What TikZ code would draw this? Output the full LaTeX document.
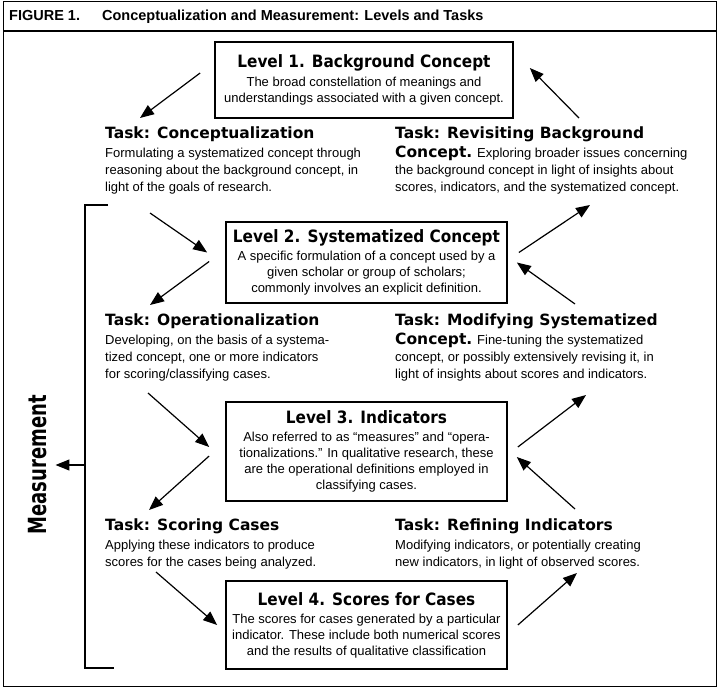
\documentclass[tikz,border=0pt]{standalone}
\usepackage{fontspec}
\setmainfont{Liberation Sans}
\newfontfamily\heavyfont{DejaVu Sans}
\newfontfamily\condfont{DejaVu Sans Condensed}
\usetikzlibrary{arrows.meta}

\newcommand\bodyfont{\fontsize{13}{16}\selectfont}
\newcommand\taskfont{\fontsize{13}{17}\selectfont}
\newcommand\ttlfont{\heavyfont\bfseries\fontsize{15.5}{18}\selectfont}
\newcommand\lvlfont{\condfont\bfseries\fontsize{17}{19}\selectfont}

\tikzset{
  level/.style={draw, line width=1.7pt, align=center, minimum width=281pt, inner sep=0pt, font=\bodyfont},
  task/.style={anchor=north west, align=left, inner sep=0pt, font=\taskfont},
  arr/.style={line width=1.2pt, -{Triangle[length=14pt,width=11pt]}},
}

\begin{document}
\begin{tikzpicture}[x=1pt,y=-1pt]
\useasboundingbox (0,0) rectangle (720,690);

% Frame and heading
\draw[line width=1pt] (3.5,2) rectangle (716.5,686.5);
\node[anchor=west, inner sep=0pt, font=\fontsize{14.5}{16}\selectfont\bfseries] (hdr) at (9,17) {FIGURE 1.\hspace{22pt}Conceptualization and Measurement: Levels and Tasks};
\draw[line width=1.6pt] (3,31) -- (717,31);

% Levels
\node[level, minimum width=298pt, minimum height=76pt] (lone) at (364,80) {{\lvlfont Level 1. Background Concept}\\[3pt]The broad constellation of meanings and\\understandings associated with a given concept.};
\node[level, minimum height=81pt] (ltwo) at (366.5,262.5) {{\lvlfont Level 2. Systematized Concept}\\[2pt]A specific formulation of a concept used by a\\given scholar or group of scholars;\\commonly involves an explicit definition.};
\node[level, minimum height=99pt] (lthree) at (366.5,451.5) {{\lvlfont Level 3. Indicators}\\[2pt]Also referred to as “measures” and “opera-\\tionalizations.” In qualitative research, these\\are the operational definitions employed in\\classifying cases.};
\node[level, minimum height=88pt] (lfour) at (366.5,625) {{\lvlfont Level 4. Scores for Cases}\\[2pt]The scores for cases generated by a particular\\indicator. These include both numerical scores\\and the results of qualitative classification};

% Tasks
\node[task] (tconc) at (105,126.6) {{\ttlfont Task: Conceptualization}\\[2pt]Formulating a systematized concept through\\reasoning about the background concept, in\\light of the goals of research.};
\node[task] (trev) at (395,126.6) {{\ttlfont Task: Revisiting Background}\\[2pt]{\ttlfont Concept.} Exploring broader issues concerning\\the background concept in light of insights about\\scores, indicators, and the systematized concept.};
\node[task] (top) at (105,313.6) {{\ttlfont Task: Operationalization}\\[2pt]Developing, on the basis of a systema-\\tized concept, one or more indicators\\for scoring/classifying cases.};
\node[task] (tmod) at (395,313.6) {{\ttlfont Task: Modifying Systematized}\\[2pt]{\ttlfont Concept.} Fine-tuning the systematized\\concept, or possibly extensively revising it, in\\light of insights about scores and indicators.};
\node[task] (tscore) at (105,518.6) {{\ttlfont Task: Scoring Cases}\\[2pt]Applying these indicators to produce\\scores for the cases being analyzed.};
\node[task] (tref) at (395,518.6) {{\ttlfont Task: Refining Indicators}\\[2pt]Modifying indicators, or potentially creating\\new indicators, in light of observed scores.};

% Arrows down the left side
\draw[arr] ([shift={(-14,-7)}]lone.west) -- ([shift={(35,-8.6)}]tconc.north west);
\draw[arr] ([shift={(45,86.4)}]tconc.north west) -- ([shift={(-18,-10)}]ltwo.west);
\draw[arr] ([shift={(-16,-1)}]ltwo.west) -- ([shift={(45,-8.6)}]top.north west);
\draw[arr] ([shift={(43,79.4)}]top.north west) -- ([shift={(-16,-4.5)}]lthree.west);
\draw[arr] ([shift={(-16,4.5)}]lthree.west) -- ([shift={(44,-8.6)}]tscore.north west);
\draw[arr] ([shift={(51,53.4)}]tscore.north west) -- ([shift={(-8,0)}]lfour.west);

% Arrows up the right side
\draw[arr] ([shift={(10,0)}]lfour.east) -- ([shift={(182,54.4)}]tref.north west);
\draw[arr] ([shift={(180,-9.6)}]tref.north west) -- ([shift={(9,5.5)}]lthree.east);
\draw[arr] ([shift={(10,-4.5)}]lthree.east) -- ([shift={(191,81.4)}]tmod.north west);
\draw[arr] ([shift={(180,-9.6)}]tmod.north west) -- ([shift={(9,0)}]ltwo.east);
\draw[arr] ([shift={(11,-10)}]ltwo.east) -- ([shift={(195,78.4)}]trev.north west);
\draw[arr] ([shift={(184,-8.6)}]trev.north west) -- ([shift={(16,-12)}]lone.east);

% Measurement bracket
\draw[line width=1.3pt] (108,205) -- (85,205) -- (85,668) -- (114,668);
\coordinate (brk) at (85,465);
\node[rotate=90, inner sep=0pt, font=\condfont\bfseries\fontsize{25}{26}\selectfont] (meas) at (38,465) {\scalebox{0.8}[1]{Measurement}};
\draw[arr] (brk) -- ([xshift=8pt]meas.south);

\end{tikzpicture}
\end{document}
